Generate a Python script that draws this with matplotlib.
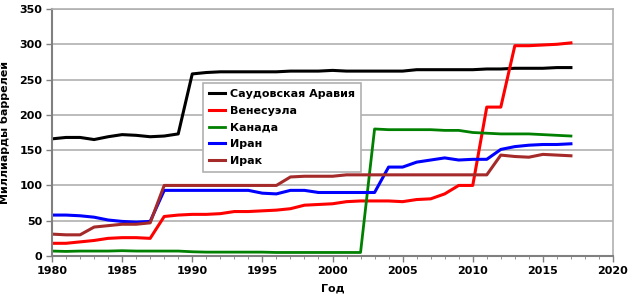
import matplotlib
matplotlib.use("Agg")
import matplotlib.pyplot as plt
from matplotlib.ticker import MultipleLocator

years = list(range(1980, 2018))
saudi = [166, 168, 168, 165, 169, 172, 171, 169, 170, 173, 258, 260, 261, 261, 261, 261, 261, 262, 262, 262,
         263, 262, 262, 262, 262, 262, 264, 264, 264, 264, 264, 265, 265, 266, 266, 266, 267, 267]
venezuela = [18, 18, 20, 22, 25, 26, 26, 25, 56, 58, 59, 59, 60, 63, 63, 64, 65, 67, 72, 73,
             74, 77, 78, 78, 78, 77, 80, 81, 88, 100, 100, 211, 211, 298, 298, 299, 300, 302]
canada = [7, 6.5, 7, 7, 7, 7.5, 7, 7, 7, 7, 6, 5.5, 5.5, 5.5, 5.5, 5.5, 5, 5, 5, 5,
          5, 5, 5, 180, 179, 179, 179, 179, 178, 178, 175, 174, 173, 173, 173, 172, 171, 170]
iran = [58, 58, 57, 55, 51, 49, 48, 49, 93, 93, 93, 93, 93, 93, 93, 89, 88, 93, 93, 90,
        90, 90, 90, 90, 126, 126, 133, 136, 139, 136, 137, 137, 151, 155, 157, 158, 158, 159]
iraq = [31, 30, 30, 41, 43, 45, 45, 47, 100, 100, 100, 100, 100, 100, 100, 100, 100, 112, 113, 113,
        113, 115, 115, 115, 115, 115, 115, 115, 115, 115, 115, 115, 143, 141, 140, 144, 143, 142]

series = [
    ("Саудовская Аравия", saudi, "black", 2.2),
    ("Венесуэла", venezuela, "#ff0000", 2.2),
    ("Канада", canada, "#008000", 2.0),
    ("Иран", iran, "#0000ff", 2.2),
    ("Ирак", iraq, "#a52a2a", 2.2),
]

plt.rcParams['font.family'] = ['DejaVu Sans']
plt.rcParams['font.weight'] = 'bold'

fig = plt.figure(figsize=(6.28, 3.0), dpi=100)
ax = fig.add_axes([52/628, 44/300, 561/628, 247/300])

for label, vals, color, lw in series:
    ax.plot(years, vals, color=color, lw=lw, label=label, solid_joinstyle='round')

ax.set_xlim(1980, 2020)
ax.set_ylim(0, 350)
ax.xaxis.set_major_locator(MultipleLocator(5))
ax.xaxis.set_minor_locator(MultipleLocator(1))
ax.yaxis.set_major_locator(MultipleLocator(50))
ax.grid(axis='y', color='#b0b0b0', lw=1.2)
ax.set_axisbelow(True)

for s in ['left', 'bottom']:
    ax.spines[s].set_color('#808080')
    ax.spines[s].set_linewidth(1.5)
for s in ['top', 'right']:
    ax.spines[s].set_color('#b0b0b0')
    ax.spines[s].set_linewidth(1.2)

ax.tick_params(axis='both', labelsize=8, colors='#808080', labelcolor='black', width=1, length=4, pad=3)
ax.tick_params(axis='x', which='minor', length=2.5, colors='#808080')
for t in ax.get_xticklabels() + ax.get_yticklabels():
    t.set_fontweight('bold')

ax.set_xlabel("Год", fontsize=8, fontweight='bold')
ax.xaxis.set_label_coords(0.5, -0.11, transform=ax.transAxes)
ax.xaxis.label.set_va('top')
ax.set_ylabel("Миллиарды баррелей", fontsize=8, fontweight='bold')
ax.yaxis.set_label_coords(-0.075, 0.5)

leg = ax.legend(loc='upper left', bbox_to_anchor=(0.269, 0.70), fontsize=8,
                frameon=True, fancybox=False, framealpha=1, handlelength=1.4, handletextpad=0.5,
                borderpad=0.55, labelspacing=0.6, borderaxespad=0)
leg.get_frame().set_edgecolor('#b0b0b0')
leg.get_frame().set_linewidth(1.2)
for t in leg.get_texts():
    t.set_fontweight('bold')

fig.savefig("out.png", dpi=100)
